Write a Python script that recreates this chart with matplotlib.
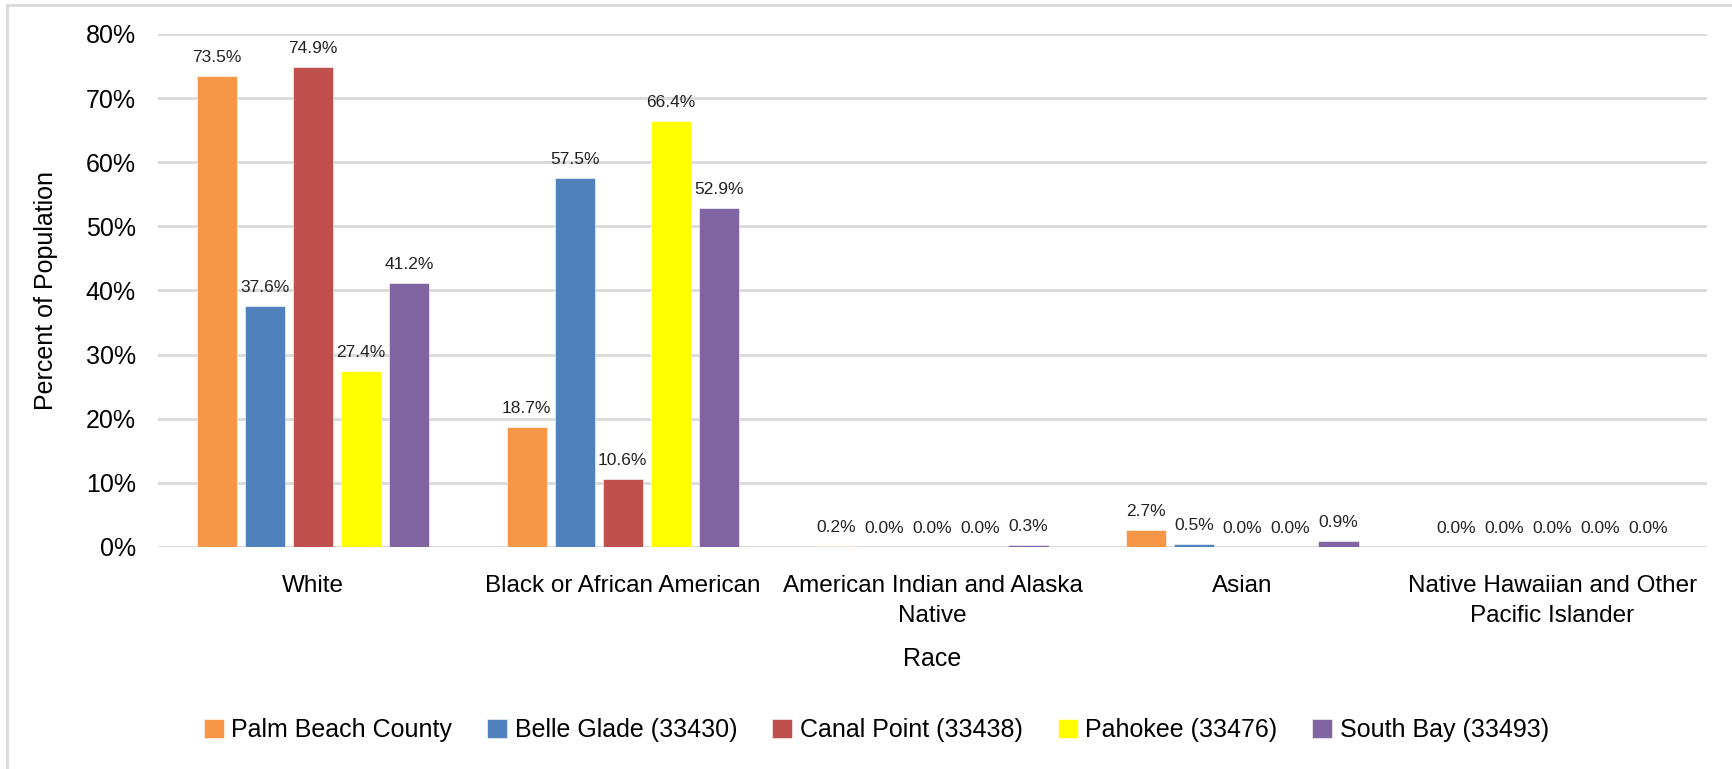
import numpy as np
import matplotlib.pyplot as plt
from matplotlib import font_manager
from matplotlib.patches import Rectangle

# data
categories = ["White", "Black or African American", "American Indian and Alaska\nNative",
              "Asian", "Native Hawaiian and Other\nPacific Islander"]
series_names = ["Palm Beach County", "Belle Glade (33430)", "Canal Point (33438)",
                "Pahokee (33476)", "South Bay (33493)"]
palm_beach = [73.5, 18.7, 0.2, 2.7, 0.0]
belle_glade = [37.6, 57.5, 0.0, 0.5, 0.0]
canal_point = [74.9, 10.6, 0.0, 0.0, 0.0]
pahokee = [27.4, 66.4, 0.0, 0.0, 0.0]
south_bay = [41.2, 52.9, 0.3, 0.9, 0.0]
colors = ["#F79646", "#4F81BD", "#C0504D", "#FFFF00", "#8064A2"]

names = {f.name for f in font_manager.fontManager.ttflist}
fam = "Liberation Sans Narrow" if "Liberation Sans Narrow" in names else "Liberation Sans"
plt.rcParams['font.family'] = [fam, 'DejaVu Sans']

fig = plt.figure(figsize=(17.32, 7.69), dpi=100)
ax = fig.add_axes([0.0912, 0.2887, 0.8944, 0.6671])

x = np.arange(len(categories))
step = 0.155
width = 0.13
all_series = [palm_beach, belle_glade, canal_point, pahokee, south_bay]
for i, (vals, name, c) in enumerate(zip(all_series, series_names, colors)):
    pos = x + (i - 2) * step
    v = np.array(vals) / 100
    ax.bar(pos, v, width, color=c, label=name, edgecolor='white',
           linewidth=0.4, zorder=3)
    for xp, val in zip(pos, vals):
        ax.annotate(f"{val:.1f}%", (xp, val / 100), xytext=(0, 8),
                    textcoords='offset points', ha='center', va='bottom',
                    fontsize=12.5, color='#222222')

ax.set_xlim(-0.5, 4.5)
ax.set_ylim(0, 0.8)
ax.set_yticks(np.arange(0, 0.81, 0.1))
ax.set_yticklabels([f"{int(t)}%" for t in np.arange(0, 81, 10)], fontsize=18)
ax.set_xticks(x)
ax.set_xticklabels(categories, fontsize=17.5, linespacing=1.5)
ax.tick_params(axis='both', length=0)
ax.tick_params(axis='x', pad=20)
ax.tick_params(axis='y', pad=16)
ax.grid(axis='y', color='#D9D9D9', linewidth=2, zorder=0)
for s in ax.spines.values():
    s.set_visible(False)
ax.axhline(0, color='#D9D9D9', linewidth=2, zorder=2)

ax.set_ylabel("Percent of Population", fontsize=18, labelpad=20)
ax.set_xlabel("Race", fontsize=18, labelpad=14)

fig.legend(loc='center', bbox_to_anchor=(0.506, 0.051), ncol=5, frameon=False,
           fontsize=18, handlelength=0.8, handleheight=0.8, columnspacing=1.4,
           handletextpad=0.3)

# chart frame
fig.patches.append(Rectangle((7 / 1732, -0.1), 1.2, 1 - 5 / 769 + 0.1,
                             transform=fig.transFigure, fill=False,
                             edgecolor='#D9D9D9', linewidth=2))

fig.savefig("out.png", dpi=100)
